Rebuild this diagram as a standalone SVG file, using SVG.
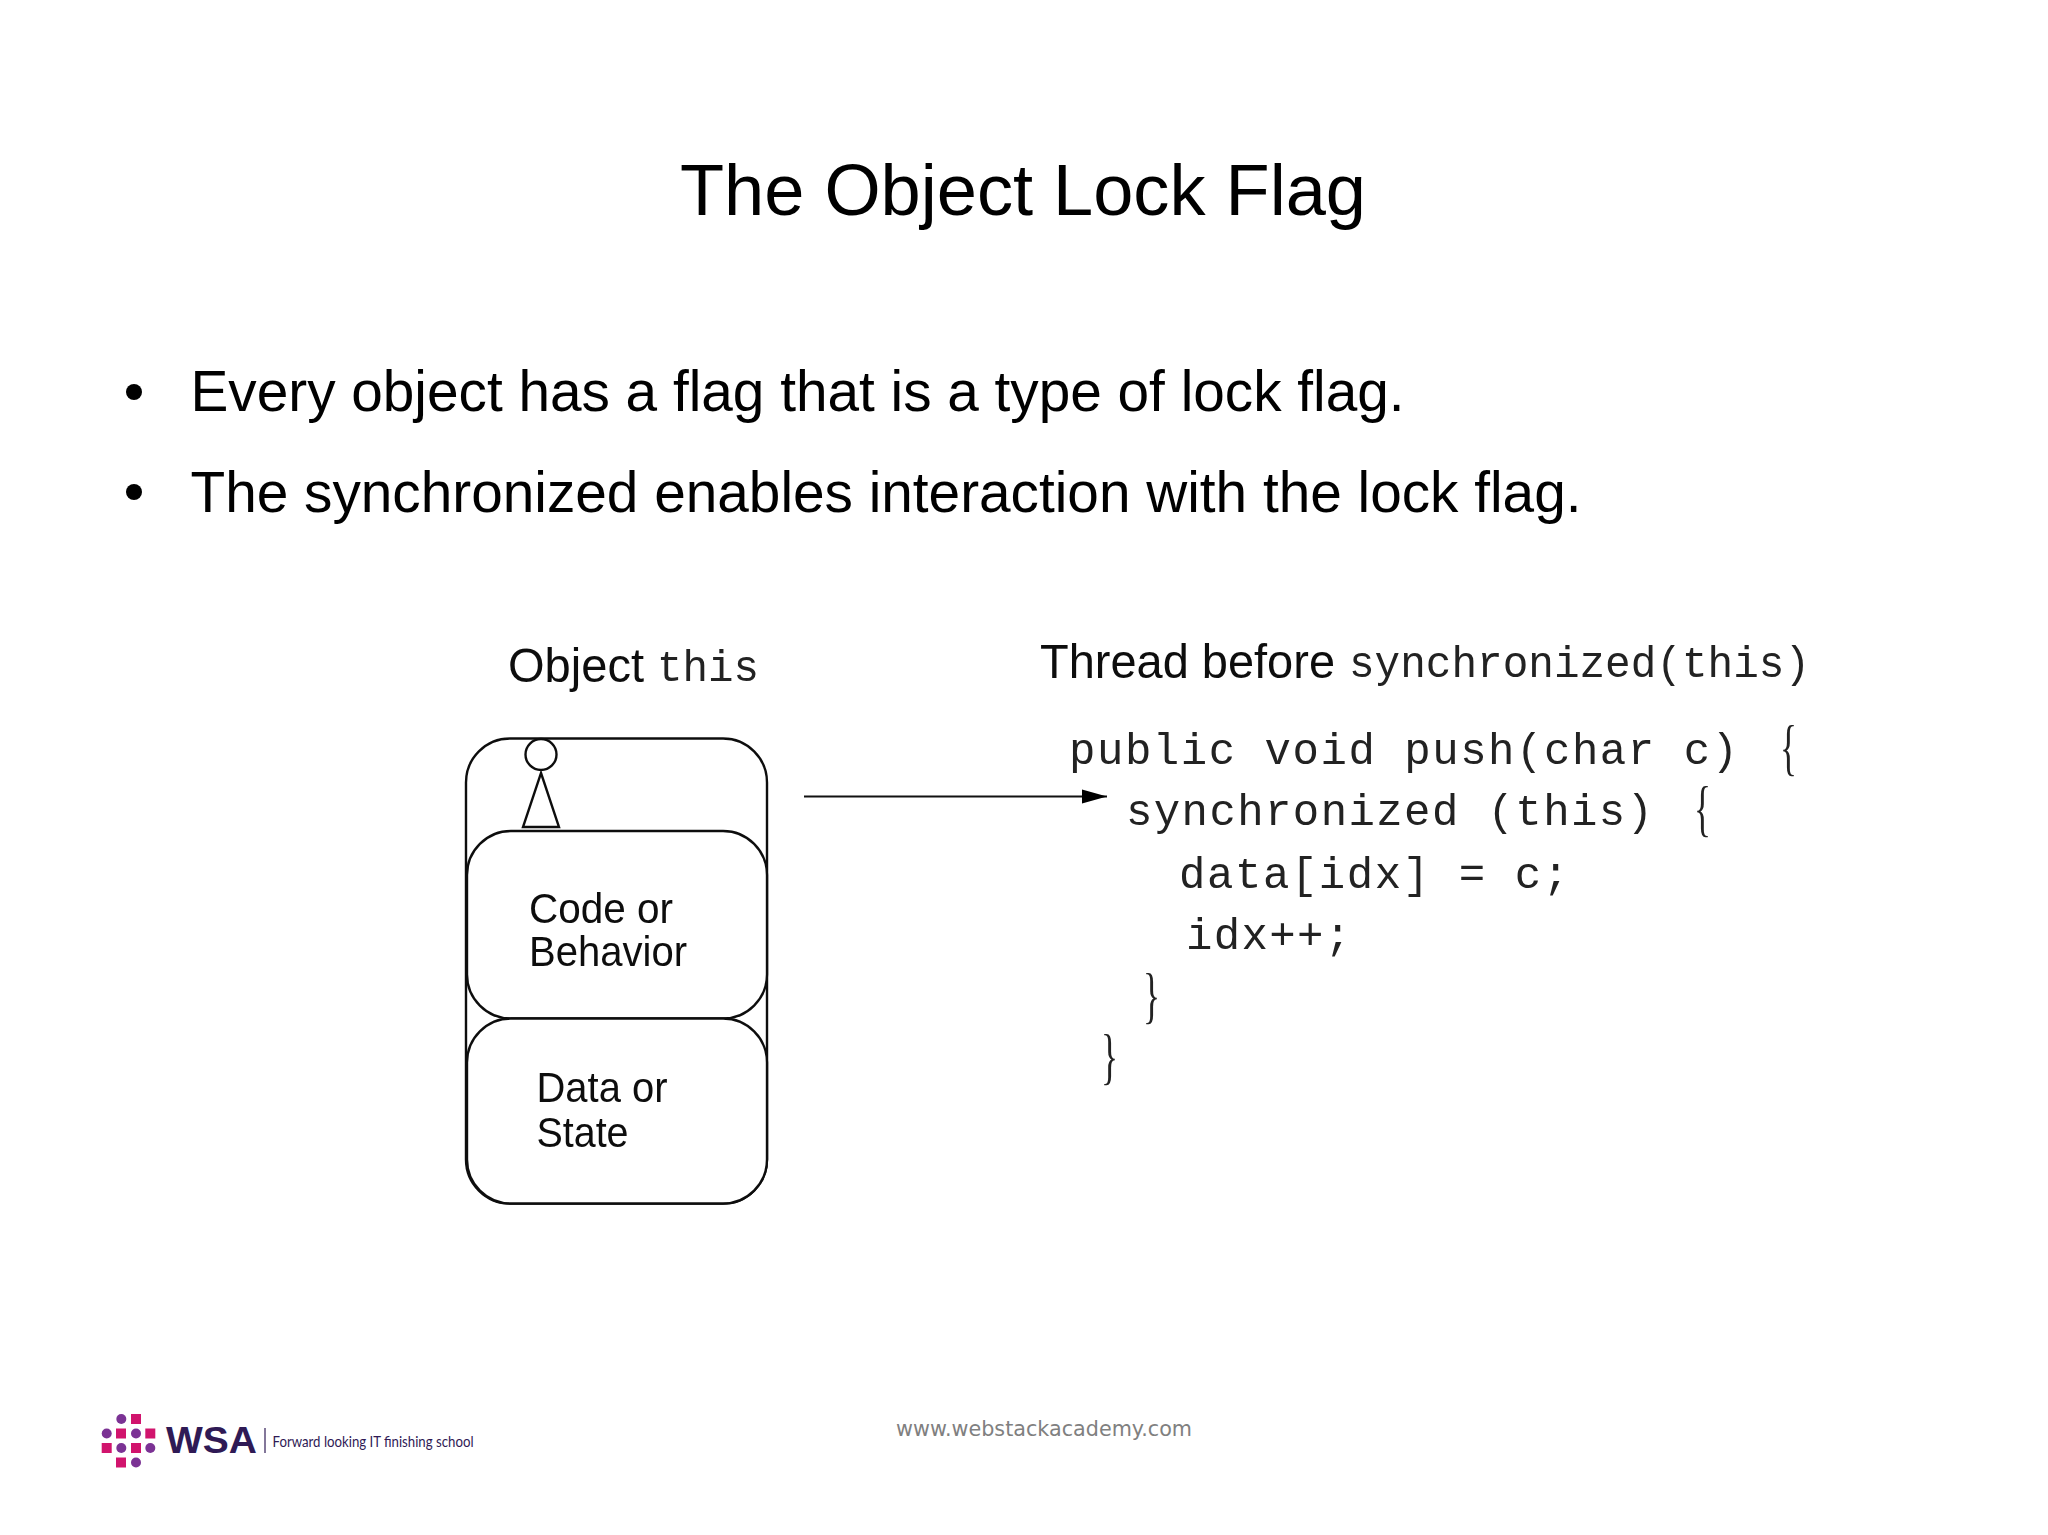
<svg xmlns="http://www.w3.org/2000/svg" width="2048" height="1535" viewBox="0 0 2048 1535">
<defs>
<style>
.s{font-family:"Liberation Sans",Arial,sans-serif;fill:#000}
.l{font-family:"Liberation Sans",Arial,sans-serif;fill:#111;font-size:42px}
.m{font-family:"Liberation Mono","Courier New",monospace;fill:#222;font-size:44px}
.b{font-family:"Liberation Serif",serif;fill:#222;font-size:62px}
.box{fill:#fff;stroke:#111;stroke-width:2.4}
.f{fill:#fff;stroke:#111;stroke-width:2.4}
.p{fill:#d1146d}
.c{fill:#7b3294}
</style>
<marker id="ah" markerUnits="userSpaceOnUse" markerWidth="26" markerHeight="16" refX="25" refY="8" orient="auto"><path d="M0 1L25 8L0 15Z" fill="#000"/></marker>
<filter id="soft" x="-5%" y="-5%" width="110%" height="110%"><feGaussianBlur stdDeviation="0.6"/></filter>
</defs>
<rect width="2048" height="1535" fill="#fff"/>
<text id="title" class="s" x="680" y="215" font-size="72" textLength="686" lengthAdjust="spacingAndGlyphs">The Object Lock Flag</text>
<g id="bullets">
<circle cx="134" cy="392" r="8"/>
<text class="s" x="190.500" y="411" font-size="58" textLength="1214" lengthAdjust="spacingAndGlyphs">Every object has a flag that is a type of lock flag.</text>
<circle cx="134" cy="492" r="8"/>
<text class="s" x="190.500" y="512" font-size="58" textLength="1391" lengthAdjust="spacingAndGlyphs">The synchronized enables interaction with the lock flag.</text>
</g>
<g id="object-stack" filter="url(#soft)">
<rect id="object-outer" class="box" x="466" y="738.500" width="301" height="465" rx="44"/>
<g id="lock-flag">
<circle class="f" cx="541" cy="754.500" r="15.500"/>
<path class="f" d="M541 773L559 827H523Z"/>
</g>
<g id="code-box">
<rect class="box" x="467" y="831" width="300" height="187.500" rx="44"/>
<text class="l" x="529" y="923" textLength="144" lengthAdjust="spacingAndGlyphs">Code or</text>
<text class="l" x="529" y="966" textLength="158" lengthAdjust="spacingAndGlyphs">Behavior</text>
</g>
<g id="data-box">
<rect class="box" x="467" y="1018.500" width="300" height="185" rx="44"/>
<text class="l" x="536.500" y="1102" textLength="131" lengthAdjust="spacingAndGlyphs">Data or</text>
<text class="l" x="536.500" y="1147" textLength="92" lengthAdjust="spacingAndGlyphs">State</text>
</g>
</g>
<g id="object-label" filter="url(#soft)">
<text class="l" x="508" y="682" style="font-size:48px" textLength="136" lengthAdjust="spacingAndGlyphs">Object</text>
<text class="m" x="657" y="681" textLength="102" lengthAdjust="spacingAndGlyphs">this</text>
</g>
<g id="thread-label" filter="url(#soft)">
<text class="l" x="1040" y="678" style="font-size:48px" textLength="295" lengthAdjust="spacingAndGlyphs">Thread before</text>
<text class="m" x="1349" y="677" textLength="461" lengthAdjust="spacingAndGlyphs">synchronized(this)</text>
</g>
<g id="connectors">
<line x1="804" y1="796.500" x2="1107" y2="796.500" stroke="#111" stroke-width="2.2" marker-end="url(#ah)"/>
</g>
<g id="code" filter="url(#soft)">
<text class="m" x="1069" y="764" textLength="669" lengthAdjust="spacing">public void push(char c)</text>
<text class="b" x="1780" y="768" textLength="17" lengthAdjust="spacingAndGlyphs">{</text>
<text class="m" x="1126" y="825" textLength="527" lengthAdjust="spacing">synchronized (this)</text>
<text class="b" x="1694" y="829" textLength="17" lengthAdjust="spacingAndGlyphs">{</text>
<text class="m" x="1179" y="888" textLength="390" lengthAdjust="spacing">data[idx] = c;</text>
<text class="m" x="1186" y="949" textLength="165" lengthAdjust="spacing">idx++;</text>
<text class="b" x="1143" y="1016" textLength="17" lengthAdjust="spacingAndGlyphs">}</text>
<text class="b" x="1101" y="1077" textLength="17" lengthAdjust="spacingAndGlyphs">}</text>
</g>
<text id="footer" x="896" y="1436" font-family="DejaVu Sans, sans-serif" font-size="21" fill="#808080" textLength="296" lengthAdjust="spacingAndGlyphs">www.webstackacademy.com</text>
<g id="logo">
<circle class="c" cx="121.300" cy="1419" r="5"/><rect class="p" x="131" y="1414" width="10" height="10"/>
<circle class="c" cx="106.700" cy="1433.500" r="5"/><rect class="p" x="116" y="1428.500" width="10" height="10"/><circle class="c" cx="136" cy="1433.500" r="5"/><rect class="p" x="145.300" y="1428.500" width="10" height="10"/>
<rect class="p" x="101.700" y="1443" width="10" height="10"/><circle class="c" cx="121.300" cy="1448" r="5"/><rect class="p" x="131" y="1443" width="10" height="10"/><circle class="c" cx="150.300" cy="1448" r="5"/>
<rect class="p" x="116" y="1457.500" width="10" height="10"/><circle class="c" cx="136" cy="1462.500" r="5"/>
<text x="166" y="1453" font-family="Liberation Sans, sans-serif" font-size="36" font-weight="bold" fill="#2f1a55" textLength="91" lengthAdjust="spacingAndGlyphs">WSA</text>
<line x1="265" y1="1428" x2="265" y2="1453" stroke="#5a4a78" stroke-width="1.500"/>
<text x="272.500" y="1447" font-family="Lato, Liberation Sans, sans-serif" font-size="15" fill="#2f1a55" textLength="201" lengthAdjust="spacingAndGlyphs">Forward looking IT finishing school</text>
</g>
</svg>
